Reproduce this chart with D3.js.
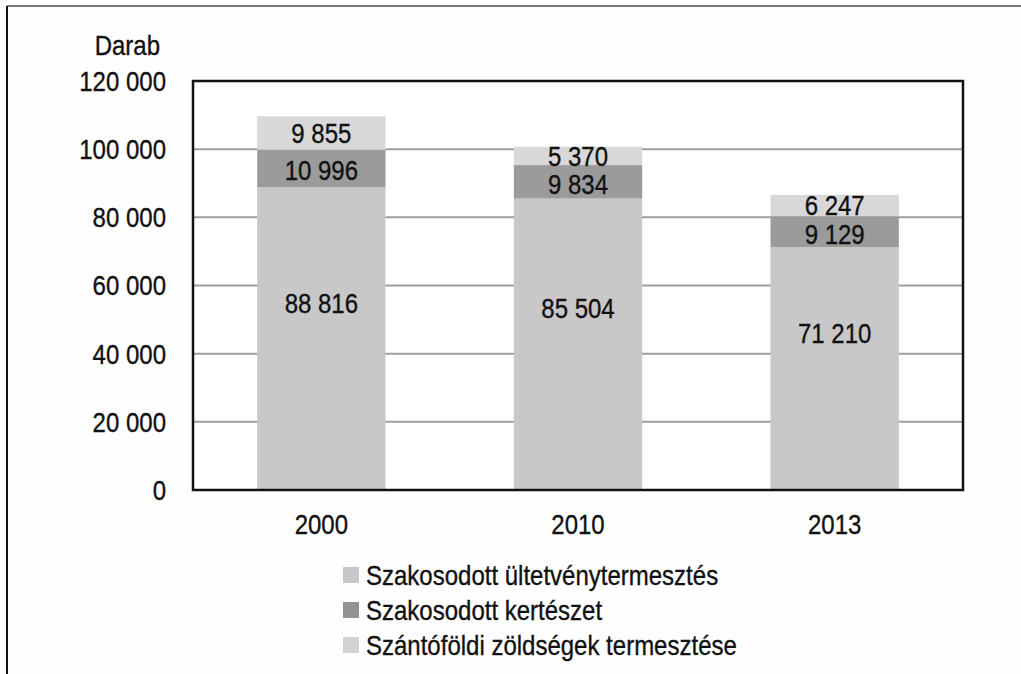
<!DOCTYPE html>
<html>
<head>
<meta charset="utf-8">
<script src="https://cdn.jsdelivr.net/npm/d3@7"></script>
<style>
  html, body { margin: 0; padding: 0; background: #fefefe; }
  svg text { font-family: "Liberation Sans", Arial, sans-serif; fill: #111; stroke: #111; stroke-width: 0.3px; }
</style>
</head>
<body>
<svg id="chart" width="1021" height="674"></svg>
<script>
// ---- data ----
const years = ["2000", "2010", "2013"];
const seriesNames = [
  "Szakosodott ültetvénytermesztés",
  "Szakosodott kertészet",
  "Szántóföldi zöldségek termesztése"
];
const ultetveny = [88816, 85504, 71210];
const kerteszet = [10996, 9834, 9129];
const szantofoldi = [9855, 5370, 6247];
const yTicks = [0, 20000, 40000, 60000, 80000, 100000, 120000];
const yUnit = "Darab";

// ---- styles ----
const colors = ["#c8c8c8", "#9b9b9b", "#d8d8d8"];
const legendColors = ["#c8c8c8", "#939393", "#d2d2d2"];
const FS = 24, SY = 1.15;

const svg = d3.select("#chart");
const margin = { left: 193, right: 1021 - 963, top: 81, bottom: 674 - 490 };
const W = 1021, H = 674;
const x0 = margin.left, x1 = W - margin.right, yTop = margin.top, yBot = H - margin.bottom;

const x = d3.scaleBand().domain(years).range([x0, x1]).paddingInner(0.5).paddingOuter(0.25);
const y = d3.scaleLinear().domain([0, 120000]).range([yBot, yTop]);

// outer frame lines
svg.append("line").attr("x1", 7).attr("x2", W).attr("y1", 6).attr("y2", 6)
  .attr("stroke", "#777").attr("stroke-width", 2);
svg.append("line").attr("x1", 7).attr("x2", 7).attr("y1", 6).attr("y2", H)
  .attr("stroke", "#111").attr("stroke-width", 2);

// plot background
svg.append("rect").attr("x", x0).attr("y", yTop).attr("width", x1 - x0).attr("height", yBot - yTop)
  .attr("fill", "#fff");

// gridlines
svg.append("g").selectAll("line").data(yTicks.filter(d => d > 0 && d < 120000)).join("line")
  .attr("x1", x0).attr("x2", x1).attr("y1", d => y(d)).attr("y2", d => y(d))
  .attr("stroke", "#9e9e9e").attr("stroke-width", 2);

// stacked data
const table = years.map((yr, i) => ({ year: yr, s0: ultetveny[i], s1: kerteszet[i], s2: szantofoldi[i] }));
const stack = d3.stack().keys(["s0", "s1", "s2"])(table);

function stretchedText(g, tx, ty, str, anchor) {
  return g.append("text")
    .attr("transform", `translate(${tx},${ty}) scale(1,${SY})`)
    .attr("text-anchor", anchor)
    .style("font-size", FS + "px")
    .text(str);
}
const fmt = v => d3.format(",")(v).replace(/,/g, " ");

const barsG = svg.append("g");
stack.forEach((layer, li) => {
  barsG.selectAll(null).data(layer).join("rect")
    .attr("x", d => x(d.data.year))
    .attr("width", x.bandwidth())
    .attr("y", d => y(d[1]))
    .attr("height", d => y(d[0]) - y(d[1]))
    .attr("fill", colors[li]);
});

// value labels
const labG = svg.append("g");
const labelShift = [-36, 2, 0];
stack.forEach((layer, li) => {
  layer.forEach(d => {
    const v = d[1] - d[0];
    const cy = (y(d[0]) + y(d[1])) / 2 + labelShift[li];
    stretchedText(labG, x(d.data.year) + x.bandwidth() / 2, cy + 0.36 * FS * SY, fmt(v), "middle");
  });
});

// plot border
svg.append("rect").attr("x", x0).attr("y", yTop).attr("width", x1 - x0).attr("height", yBot - yTop)
  .attr("fill", "none").attr("stroke", "#111").attr("stroke-width", 2.5);

// y-axis tick labels
const axG = svg.append("g");
yTicks.forEach(t => {
  stretchedText(axG, 166, y(t) + 0.36 * FS * SY, fmt(t), "end");
});
stretchedText(axG, 160, 45 + 0.36 * FS * SY, yUnit, "end");

// x-axis labels
years.forEach(yr => {
  stretchedText(axG, x(yr) + x.bandwidth() / 2, 524 + 0.36 * FS * SY, yr, "middle");
});

// legend
const lg = svg.append("g");
const legY = [575, 610, 645];
seriesNames.forEach((name, i) => {
  lg.append("rect").attr("x", 343).attr("y", legY[i] - 8).attr("width", 16).attr("height", 16)
    .attr("fill", legendColors[i]);
  stretchedText(lg, 366, legY[i] + 0.36 * FS * SY, name, "start");
});
</script>
</body>
</html>
